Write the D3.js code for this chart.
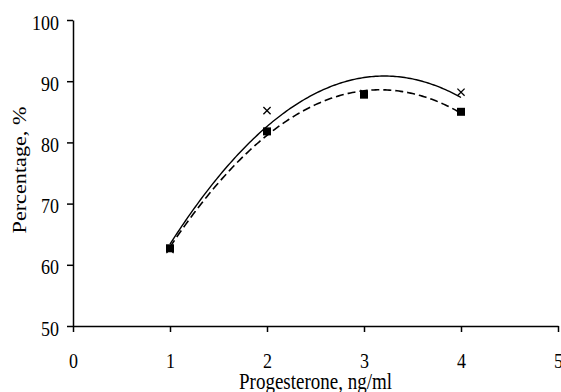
<!DOCTYPE html>
<html><head><meta charset="utf-8">
<script src="https://cdn.jsdelivr.net/npm/d3@7"></script>
<style>
html,body{margin:0;padding:0;background:#fff;}
text{font-family:"Liberation Serif","Times New Roman",serif;fill:#000;}
</style></head>
<body><svg id="c" width="561" height="392"></svg>
<script>
const doses = [1, 2, 3, 4];
const squareValues = [62.7, 81.8, 87.8, 85.0];
const crossValues = [62.5, 85.2, 88.0, 88.2];
const xTicks = [0, 1, 2, 3, 4, 5];
const yTicks = [50, 60, 70, 80, 90, 100];
const xTitle = "Progesterone, ng/ml";
const yTitle = "Percentage, %";

const svg = d3.select("#c");
const x = d3.scaleLinear().domain([0, 5]).range([73, 558]);
const y = d3.scaleLinear().domain([50, 100]).range([326, 20]);
const SY = 1.2;

// quadratic least squares fit
function quadFit(xs, ys) {
  let n = xs.length, S = [0,0,0,0,0], T = [0,0,0];
  xs.forEach((xi, i) => {
    for (let k = 0; k < 5; k++) S[k] += Math.pow(xi, k);
    for (let k = 0; k < 3; k++) T[k] += ys[i] * Math.pow(xi, k);
  });
  const A = [[S[0],S[1],S[2],T[0]],[S[1],S[2],S[3],T[1]],[S[2],S[3],S[4],T[2]]];
  for (let i = 0; i < 3; i++) {
    for (let j = i + 1; j < 3; j++) {
      const f = A[j][i] / A[i][i];
      for (let k = i; k < 4; k++) A[j][k] -= f * A[i][k];
    }
  }
  const c = [0,0,0];
  for (let i = 2; i >= 0; i--) {
    let s = A[i][3];
    for (let k = i + 1; k < 3; k++) s -= A[i][k] * c[k];
    c[i] = s / A[i][i];
  }
  return t => c[0] + c[1]*t + c[2]*t*t;
}
const fSq = quadFit(doses, squareValues);
const fCr = quadFit(doses, crossValues);
const ts = d3.range(1, 4.0001, 0.02);
const line = f => d3.line().x(t => x(t)).y(t => y(f(t)))(ts);

// axes
const xAxis = svg.append("g").attr("transform", `translate(0,${y(50)})`)
  .call(d3.axisBottom(x).tickValues(xTicks).tickFormat(d3.format("d")).tickSize(6).tickSizeOuter(0));
xAxis.selectAll("text").attr("y", 22.5).attr("transform", `scale(1,${SY})`).style("font-size", "18px");
const yAxis = svg.append("g").attr("transform", `translate(${x(0)},0)`)
  .call(d3.axisLeft(y).tickValues(yTicks).tickFormat(d3.format("d")).tickSize(6).tickPadding(8).tickSizeOuter(0));
yAxis.selectAll("text").attr("transform", `scale(1,${SY})`).attr("dy", "0.42em").style("font-size", "18px");
svg.selectAll(".domain, .tick line").attr("stroke", "#000").attr("stroke-width", 1.5);
svg.selectAll(".tick text").attr("font-family", null);

// curves
svg.append("path").attr("d", line(fCr)).attr("fill", "none").attr("stroke", "#000").attr("stroke-width", 1.4);
svg.append("path").attr("d", line(fSq)).attr("fill", "none").attr("stroke", "#000").attr("stroke-width", 1.6)
  .attr("stroke-dasharray", "8,4");

// cross markers
const cr = 3.6;
svg.append("g").selectAll("path").data(doses).join("path")
  .attr("d", (d, i) => {
    const cx = x(d), cy = y(crossValues[i]);
    return `M${cx-cr},${cy-cr}L${cx+cr},${cy+cr}M${cx-cr},${cy+cr}L${cx+cr},${cy-cr}`;
  })
  .attr("stroke", "#000").attr("stroke-width", 1.3).attr("fill", "none");

// square markers
const ss = 8;
svg.append("g").selectAll("rect").data(doses).join("rect")
  .attr("x", d => x(d) - ss/2).attr("y", (d, i) => y(squareValues[i]) - ss/2)
  .attr("width", ss).attr("height", ss).attr("fill", "#000");

// titles
svg.append("text").attr("transform", `translate(${x(2.5)},389) scale(1,${SY})`)
  .attr("text-anchor", "middle").style("font-size", "19px").text(xTitle);
svg.append("text").attr("transform", `translate(26,170) scale(1,${SY}) rotate(-90)`)
  .attr("text-anchor", "middle").style("font-size", "18.5px").text(yTitle);
</script></body></html>
